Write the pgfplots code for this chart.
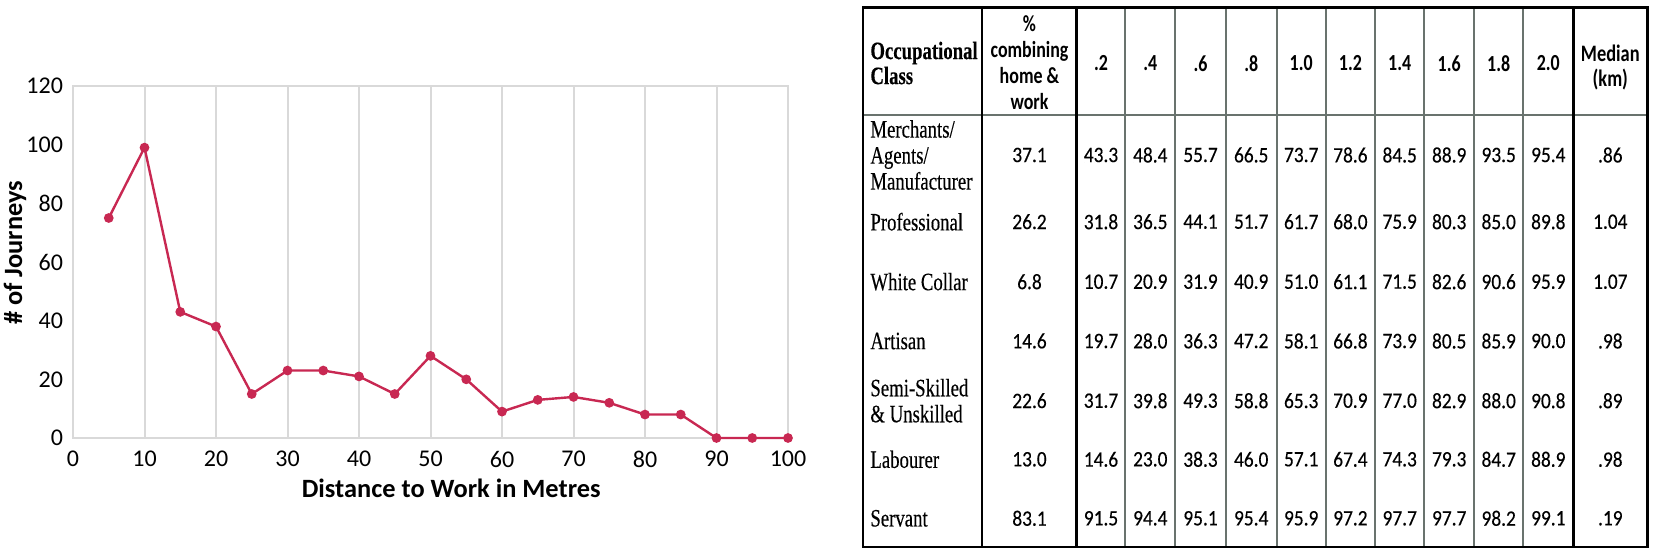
\documentclass[border=0pt]{standalone}
\usepackage{pgfplots}
\pgfplotsset{compat=1.18}
\usepackage{fontspec}
\setmainfont{Carlito}
\newfontfamily\tserif[FakeStretch=0.75,FakeBold=0.3]{Liberation Serif}
\newfontfamily\tsans[FakeStretch=0.88,FakeBold=0.3]{Carlito}
\newfontfamily\thead[FakeStretch=0.78]{Carlito}
\definecolor{gridgray}{RGB}{217,217,217}
\definecolor{linered}{RGB}{200,40,82}
\definecolor{tabgray}{RGB}{105,115,110}
\begin{document}
\begin{tikzpicture}
\path[use as bounding box] (0,0) rectangle (827pt,277pt);
\begin{axis}[
  at={(36.5pt,58pt)}, anchor=south west,
  width=357.5pt, height=176pt, scale only axis,
  xmin=0, xmax=100, ymin=0, ymax=120,
  xtick={0,10,...,100}, ytick={0,20,...,120},
  xmajorgrids,
  major grid style={draw=gridgray, line width=1pt},
  axis line style={draw=gridgray, line width=1.2pt},
  major tick length=0pt, tick style={draw=none},
  ticklabel style={font=\fontsize{12}{14}\selectfont, text=black},
  xticklabel style={yshift=-3pt},
  yticklabel style={xshift=-1.5pt},
  /pgf/number format/assume math mode=true,
  xlabel={Distance to Work in Metres},
  ylabel={\# of Journeys},
  label style={font=\bfseries\fontsize{13.2}{15}\selectfont},
  xlabel style={at={(axis description cs:0.529,-0.142)}, anchor=center},
  ylabel style={at={(axis description cs:-0.081,0.526)}, anchor=center},
  clip=false,
]
\addplot[color=linered, line width=1.2pt, mark=*, mark size=1.8pt, mark options={fill=linered, draw=linered}]
coordinates {(5,75)(10,99)(15,43)(20,38)(25,15)(30,23)(35,23)(40,21)(45,15)(50,28)(55,20)(60,9)(65,13)(70,14)(75,12)(80,8)(85,8)(90,0)(95,0)(100,0)};
\end{axis}
\begin{scope}[x=0.5pt, y=-0.5pt, yshift=277pt]
% thin data column separators
\foreach \x in {1125.3,1175.3,1225.7,1276.7,1325.7,1375,1424.3,1474,1523.3}
  \draw[tabgray, line width=0.9pt] (\x,7.3) -- (\x,547);
% header separator
\draw[tabgray, line width=1.4pt] (862.7,115) -- (1647.3,115);
% strong verticals
\draw[black, line width=1.1pt] (982.3,7.3) -- (982.3,547);
\draw[black, line width=1.5pt] (1076.7,7.3) -- (1076.7,547);
\draw[black, line width=1.5pt] (1573.3,7.3) -- (1573.3,547);
% outer border
\draw[black, line width=1.2pt] (862.7,7.3) rectangle (1647.3,547);
% headers
\node[anchor=west, inner sep=0, align=left, font=\tserif\bfseries\fontsize{12.5}{12.5}\selectfont] at (870,63) {Occupational\\Class};
\node[inner sep=0, align=center, font=\thead\bfseries\fontsize{11.5}{13}\selectfont] at (1029.5,62.5) {\%\\combining\\home \&\\work};
\foreach \h [count=\c] in {.2,.4,.6,.8,1.0,1.2,1.4,1.6,1.8,2.0} {
  \pgfmathsetmacro\cx{{1101.0,1150.3,1200.5,1251.2,1301.2,1350.4,1399.7,1449.2,1498.7,1548.3}[\c-1]}
  \node[inner sep=0, font=\thead\bfseries\fontsize{11.5}{13}\selectfont] at (\cx,63.3) {\h};
}
\node[inner sep=0, align=center, font=\thead\bfseries\fontsize{11.8}{12.5}\selectfont] at (1610.3,67.5) {Median\\(km)};
% row labels
\begin{scope}[every node/.style={anchor=west, inner sep=0, align=left, font=\tserif\fontsize{12.5}{13}\selectfont}]
\node at (870,155) {Merchants/\\Agents/\\Manufacturer};
\node at (870,221.7) {Professional};
\node at (870,281.7) {White Collar};
\node at (870,341) {Artisan};
\node at (870,400.7) {Semi-Skilled\\\& Unskilled};
\node at (870,459.3) {Labourer};
\node at (870,518.3) {Servant};
\end{scope}
% data
\foreach \vals [count=\r] in {
  {37.1,43.3,48.4,55.7,66.5,73.7,78.6,84.5,88.9,93.5,95.4,.86},
  {26.2,31.8,36.5,44.1,51.7,61.7,68.0,75.9,80.3,85.0,89.8,1.04},
  {6.8,10.7,20.9,31.9,40.9,51.0,61.1,71.5,82.6,90.6,95.9,1.07},
  {14.6,19.7,28.0,36.3,47.2,58.1,66.8,73.9,80.5,85.9,90.0,.98},
  {22.6,31.7,39.8,49.3,58.8,65.3,70.9,77.0,82.9,88.0,90.8,.89},
  {13.0,14.6,23.0,38.3,46.0,57.1,67.4,74.3,79.3,84.7,88.9,.98},
  {83.1,91.5,94.4,95.1,95.4,95.9,97.2,97.7,97.7,98.2,99.1,.19}} {
  \pgfmathsetmacro\ry{{155,221.7,281.7,341,400.7,459.3,518.3}[\r-1]}
  \foreach \v [count=\c] in \vals {
    \pgfmathsetmacro\cx{{1029.5,1101.0,1150.3,1200.5,1251.2,1301.2,1350.4,1399.7,1449.2,1498.7,1548.3,1610.3}[\c-1]}
    \node[inner sep=0, font=\tsans\fontsize{11}{12}\selectfont] at (\cx,\ry) {\v};
  }
}
\end{scope}
\end{tikzpicture}
\end{document}
